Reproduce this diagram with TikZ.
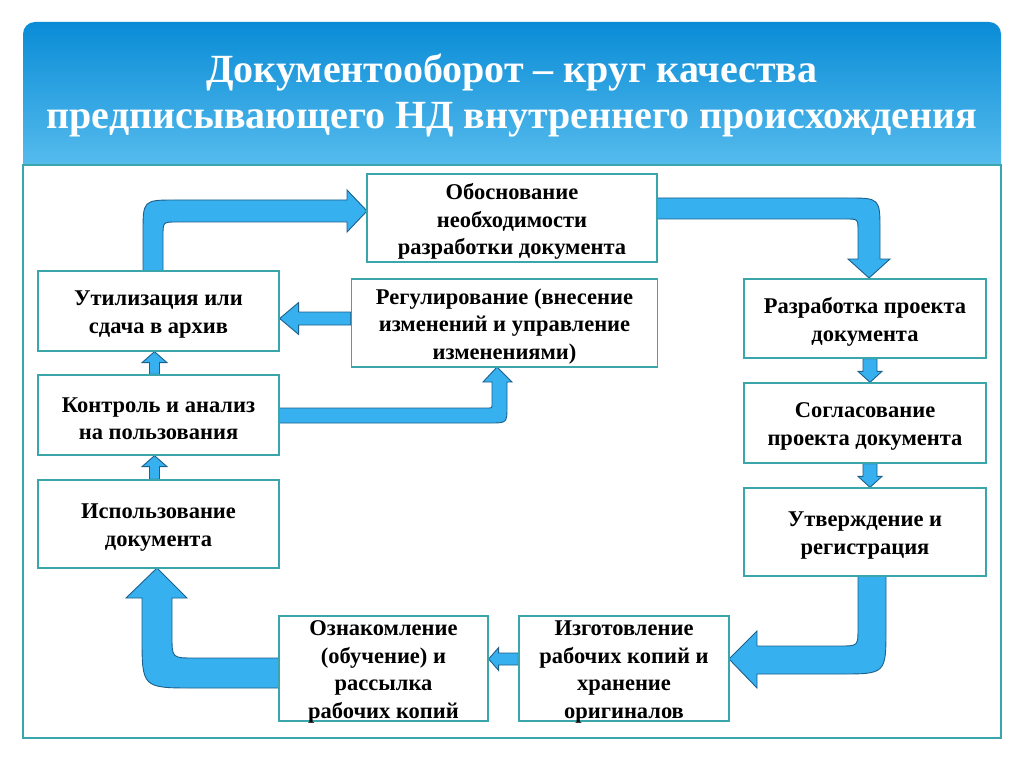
\documentclass[tikz,border=0pt]{standalone}
\usepackage{fontspec}
\setmainfont{Liberation Serif}
\usetikzlibrary{calc}
\definecolor{hdtop}{RGB}{10,140,214}
\definecolor{hdbot}{RGB}{96,194,240}
\definecolor{frameteal}{RGB}{58,166,172}
\definecolor{arrowblue}{RGB}{54,176,238}
\definecolor{arrowline}{RGB}{28,96,140}
\pgfdeclarelayer{bg}
\pgfdeclarelayer{arr}
\pgfsetlayers{bg,arr,main}
\tikzset{
  stage/.style={draw=frameteal, line width=1.3pt, fill=white, inner sep=0pt},
  stagetext/.style={align=center, font=\bfseries\fontsize{22.5}{27.5}\selectfont,
    inner sep=0pt, yshift=-3.5pt},
  blockarrow/.style={fill=arrowblue, draw=arrowline, line width=0.9pt},
}
% straight block arrow: from, to, shaft half width, head half width, head length
\newcommand{\blockarr}[5]{%
  \coordinate (ba-h) at ($(#2)!#5!(#1)$);
  \filldraw[blockarrow] ($(#1)!#3!90:(#2)$) -- ($(ba-h)!#3!90:(#2)$)
    -- ($(ba-h)!#4!90:(#2)$) -- (#2) -- ($(ba-h)!#4!-90:(#2)$)
    -- ($(ba-h)!#3!-90:(#2)$) -- ($(#1)!#3!-90:(#2)$) -- cycle;}
\begin{document}
\begin{tikzpicture}[x=1pt,y=-1pt]
\useasboundingbox (0,0) rectangle (1024,767);
\begin{pgfonlayer}{bg}
\fill[white] (0,0) rectangle (1024,767);
\shade[top color=hdtop, bottom color=hdbot, rounded corners=12pt] (23,22) rectangle (1001,185);
\draw[frameteal, line width=1.3pt, fill=white] (23,165) rectangle (1001,738);
\end{pgfonlayer}
\node (title) at (512,96) [text=white, align=center, font=\bfseries\fontsize{40}{46}\selectfont]
  {Документооборот – круг качества\\предписывающего НД внутреннего происхождения};

% stages of the cycle
\node[stage, minimum width=290pt, minimum height=88pt,
  label={[stagetext]center:{Обоснование\\необходимости\\разработки документа}}] (just) at (512,218) {};
\node[stage, minimum width=242pt, minimum height=79pt,
  label={[stagetext]center:{Разработка проекта\\документа}}] (razr) at (865,318.5) {};
\node[stage, minimum width=242pt, minimum height=80pt,
  label={[stagetext]center:{Согласование\\проекта документа}}] (sogl) at (865,423) {};
\node[stage, minimum width=242pt, minimum height=88pt,
  label={[stagetext]center:{Утверждение и\\регистрация}}] (utv) at (865,532) {};
\node[stage, minimum width=210pt, minimum height=105pt,
  label={[stagetext]center:{Изготовление\\рабочих копий и\\хранение\\оригиналов}}] (izg) at (624,668.5) {};
\node[stage, minimum width=209pt, minimum height=105pt,
  label={[stagetext]center:{Ознакомление\\(обучение) и\\рассылка\\рабочих копий}}] (ozn) at (383.5,668.5) {};
\node[stage, minimum width=241pt, minimum height=88pt,
  label={[stagetext]center:{Использование\\документа}}] (isp) at (158.5,524) {};
\node[stage, minimum width=241pt, minimum height=80pt,
  label={[stagetext]center:{Контроль и анализ\\на пользования}}] (kontr) at (158.5,415) {};
\node[stage, minimum width=241pt, minimum height=80pt,
  label={[stagetext]center:{Утилизация или\\сдача в архив}}] (util) at (158.5,311) {};
\node[stage, minimum width=306pt, minimum height=88pt,
  label={[stagetext]center:{Регулирование (внесение\\изменений и управление\\изменениями)}}] (reg) at (504.5,323) {};

\begin{pgfonlayer}{arr}
% bent arrows
\filldraw[blockarrow] (143,271) -- (143,233) .. controls (143,200) .. (176,200) -- (347,200)
  -- (347,190) -- (367,211) -- (347,232) -- (347,222) -- (177,222)
  .. controls (163,222) .. (163,236) -- (163,271) -- cycle;
\filldraw[blockarrow] (657,198) -- (847,198) .. controls (880,198) .. (880,231) -- (880,259)
  -- (890,259) -- (869,278) -- (848,259) -- (858,259) -- (858,231)
  .. controls (858,219) .. (846,219) -- (657,219) -- cycle;
\filldraw[blockarrow] (858,576) -- (886,576) -- (886,628) .. controls (886,674) .. (840,674)
  -- (757,674) -- (757,688) -- (729,659) -- (757,631) -- (757,646) -- (840,646)
  .. controls (858,646) .. (858,628) -- cycle;
\filldraw[blockarrow] (279,658) -- (194,658) .. controls (172,658) .. (172,636) -- (172,598)
  -- (187,598) -- (157,568) -- (126,598) -- (142,598) -- (142,636)
  .. controls (142,688) .. (194,688) -- (279,688) -- cycle;
\filldraw[blockarrow] (279,408) -- (488,408) .. controls (492,408) .. (492,404) -- (492,382)
  -- (483,382) -- (497,367) -- (512,382) -- (507,382) -- (507,406)
  .. controls (507,423) .. (490,423) -- (279,423) -- cycle;
% straight arrows
\coordinate (f1) at ([yshift=4.5pt]reg.west);
\coordinate (f2) at (f1 -| util.east);
\blockarr{f1}{f2}{6.5pt}{16pt}{19pt}
\coordinate (g1) at ([xshift=5pt]razr.south);
\coordinate (g2) at (g1 |- sogl.north);
\blockarr{g1}{g2}{7pt}{12pt}{11pt}
\coordinate (h1) at ([xshift=5pt]sogl.south);
\coordinate (h2) at (h1 |- utv.north);
\blockarr{h1}{h2}{7pt}{12pt}{11pt}
\coordinate (i1) at ([yshift=9.5pt]izg.west);
\coordinate (i2) at (i1 -| ozn.east);
\blockarr{i1}{i2}{6pt}{11.5pt}{10pt}
\coordinate (j1) at ([xshift=-4pt]kontr.north);
\coordinate (j2) at (j1 |- util.south);
\blockarr{j1}{j2}{5pt}{12.5pt}{11pt}
\coordinate (k1) at ([xshift=-4pt]isp.north);
\coordinate (k2) at (k1 |- kontr.south);
\blockarr{k1}{k2}{5pt}{12.5pt}{11pt}
\end{pgfonlayer}
\end{tikzpicture}
\end{document}
